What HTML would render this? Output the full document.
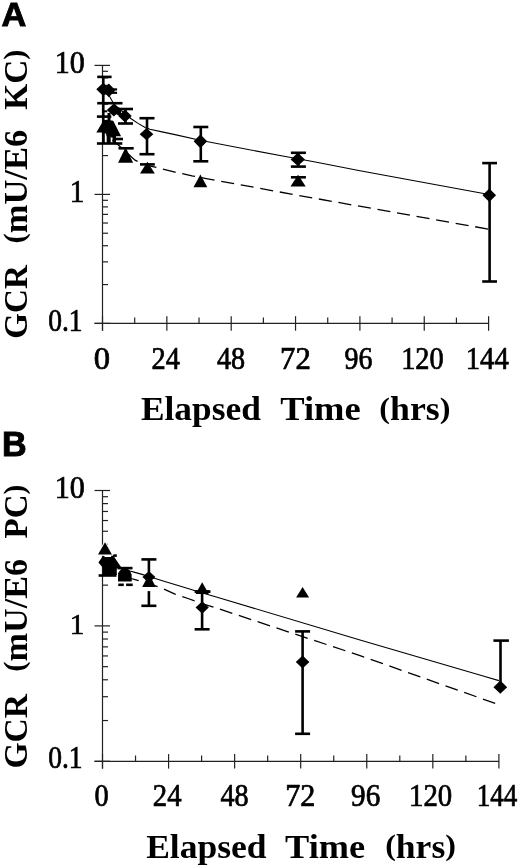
<!DOCTYPE html>
<html><head><meta charset="utf-8"><style>html,body{margin:0;padding:0;background:#fff}svg{display:block;filter:grayscale(1)}</style></head>
<body><svg width="520" height="868" viewBox="0 0 520 868">
<rect width="520" height="868" fill="#fff"/>
<text transform="translate(1.60,26.06) scale(0.9538,0.9429)" font-family="Liberation Sans" font-weight="bold" font-size="36" fill="#000" stroke="#000" stroke-width="1.0">A</text>
<text transform="translate(2.10,455.65) scale(0.9478,0.9500)" font-family="Liberation Sans" font-weight="bold" font-size="36" fill="#000" stroke="#000" stroke-width="1.0">B</text>
<line x1="102.5" y1="65.4" x2="102.5" y2="330.7" stroke="#222" stroke-width="1.2"/>
<line x1="94.5" y1="323.4" x2="488.6" y2="323.4" stroke="#222" stroke-width="1.2"/>
<line x1="94.5" y1="65.4" x2="110.0" y2="65.4" stroke="#222" stroke-width="1.2"/>
<line x1="94.5" y1="194.4" x2="110.0" y2="194.4" stroke="#222" stroke-width="1.2"/>
<line x1="94.5" y1="323.4" x2="110.0" y2="323.4" stroke="#222" stroke-width="1.2"/>
<line x1="102.5" y1="155.57" x2="108.0" y2="155.57" stroke="#222" stroke-width="1.2"/>
<line x1="102.5" y1="132.85" x2="108.0" y2="132.85" stroke="#222" stroke-width="1.2"/>
<line x1="102.5" y1="116.73" x2="108.0" y2="116.73" stroke="#222" stroke-width="1.2"/>
<line x1="102.5" y1="104.23" x2="108.0" y2="104.23" stroke="#222" stroke-width="1.2"/>
<line x1="102.5" y1="94.02" x2="108.0" y2="94.02" stroke="#222" stroke-width="1.2"/>
<line x1="102.5" y1="85.38" x2="108.0" y2="85.38" stroke="#222" stroke-width="1.2"/>
<line x1="102.5" y1="77.90" x2="108.0" y2="77.90" stroke="#222" stroke-width="1.2"/>
<line x1="102.5" y1="71.30" x2="108.0" y2="71.30" stroke="#222" stroke-width="1.2"/>
<line x1="102.5" y1="284.57" x2="108.0" y2="284.57" stroke="#222" stroke-width="1.2"/>
<line x1="102.5" y1="261.85" x2="108.0" y2="261.85" stroke="#222" stroke-width="1.2"/>
<line x1="102.5" y1="245.73" x2="108.0" y2="245.73" stroke="#222" stroke-width="1.2"/>
<line x1="102.5" y1="233.23" x2="108.0" y2="233.23" stroke="#222" stroke-width="1.2"/>
<line x1="102.5" y1="223.02" x2="108.0" y2="223.02" stroke="#222" stroke-width="1.2"/>
<line x1="102.5" y1="214.38" x2="108.0" y2="214.38" stroke="#222" stroke-width="1.2"/>
<line x1="102.5" y1="206.90" x2="108.0" y2="206.90" stroke="#222" stroke-width="1.2"/>
<line x1="102.5" y1="200.30" x2="108.0" y2="200.30" stroke="#222" stroke-width="1.2"/>
<line x1="102.50" y1="316.2" x2="102.50" y2="330.7" stroke="#222" stroke-width="1.2"/>
<line x1="134.68" y1="317.59999999999997" x2="134.68" y2="323.4" stroke="#222" stroke-width="1.2"/>
<line x1="166.85" y1="316.2" x2="166.85" y2="330.7" stroke="#222" stroke-width="1.2"/>
<line x1="199.03" y1="317.59999999999997" x2="199.03" y2="323.4" stroke="#222" stroke-width="1.2"/>
<line x1="231.20" y1="316.2" x2="231.20" y2="330.7" stroke="#222" stroke-width="1.2"/>
<line x1="263.38" y1="317.59999999999997" x2="263.38" y2="323.4" stroke="#222" stroke-width="1.2"/>
<line x1="295.55" y1="316.2" x2="295.55" y2="330.7" stroke="#222" stroke-width="1.2"/>
<line x1="327.73" y1="317.59999999999997" x2="327.73" y2="323.4" stroke="#222" stroke-width="1.2"/>
<line x1="359.90" y1="316.2" x2="359.90" y2="330.7" stroke="#222" stroke-width="1.2"/>
<line x1="392.08" y1="317.59999999999997" x2="392.08" y2="323.4" stroke="#222" stroke-width="1.2"/>
<line x1="424.25" y1="316.2" x2="424.25" y2="330.7" stroke="#222" stroke-width="1.2"/>
<line x1="456.43" y1="317.59999999999997" x2="456.43" y2="323.4" stroke="#222" stroke-width="1.2"/>
<line x1="488.60" y1="316.2" x2="488.60" y2="330.7" stroke="#222" stroke-width="1.2"/>
<text transform="translate(93.69,368.60) scale(1.1077,1.0474)" font-family="Liberation Serif" font-weight="normal" font-size="29.5" fill="#000" stroke="#000" stroke-width="0.7">0</text>
<text transform="translate(151.54,368.60) scale(0.9621,1.0474)" font-family="Liberation Serif" font-weight="normal" font-size="29.5" fill="#000" stroke="#000" stroke-width="0.7">24</text>
<text transform="translate(216.90,368.60) scale(0.9552,1.0474)" font-family="Liberation Serif" font-weight="normal" font-size="29.5" fill="#000" stroke="#000" stroke-width="0.7">48</text>
<text transform="translate(280.02,368.60) scale(1.0423,1.0474)" font-family="Liberation Serif" font-weight="normal" font-size="29.5" fill="#000" stroke="#000" stroke-width="0.7">72</text>
<text transform="translate(344.45,368.60) scale(0.9464,1.0474)" font-family="Liberation Serif" font-weight="normal" font-size="29.5" fill="#000" stroke="#000" stroke-width="0.7">96</text>
<text transform="translate(401.18,368.60) scale(0.9619,1.0474)" font-family="Liberation Serif" font-weight="normal" font-size="29.5" fill="#000" stroke="#000" stroke-width="0.7">120</text>
<text transform="translate(465.76,368.60) scale(0.9714,1.0474)" font-family="Liberation Serif" font-weight="normal" font-size="29.5" fill="#000" stroke="#000" stroke-width="0.7">144</text>
<text transform="translate(54.66,72.70) scale(1.0185,1.0474)" font-family="Liberation Serif" font-weight="normal" font-size="29.5" fill="#000" stroke="#000" stroke-width="0.7">10</text>
<text transform="translate(69.72,201.80) scale(0.9917,1.0474)" font-family="Liberation Serif" font-weight="normal" font-size="29.5" fill="#000" stroke="#000" stroke-width="0.7">1</text>
<text transform="translate(48.27,331.00) scale(0.9314,1.0526)" font-family="Liberation Serif" font-weight="normal" font-size="29.5" fill="#000" stroke="#000" stroke-width="0.7">0.1</text>
<text transform="translate(140.94,420.20) scale(1.0554,1.0000)" font-family="Liberation Serif" font-weight="bold" font-size="33.5" fill="#000">Elapsed</text>
<text transform="translate(280.21,420.20) scale(1.0903,1.0000)" font-family="Liberation Serif" font-weight="bold" font-size="33.5" fill="#000">Time</text>
<text transform="translate(379.33,420.20) scale(1.0672,1.0000)" font-family="Liberation Serif" font-weight="bold" font-size="33.5" fill="#000"><tspan font-size="30.15" dy="-2.6">(</tspan><tspan dy="2.6">​</tspan>hrs<tspan font-size="30.15" dy="-2.6">)</tspan><tspan dy="2.6">​</tspan></text>
<text transform="translate(27.30,338.78) rotate(-90) scale(0.9890,1.0000)" font-family="Liberation Serif" font-weight="bold" font-size="33.5" fill="#000">GCR</text>
<text transform="translate(27.30,243.53) rotate(-90) scale(1.0284,1.0000)" font-family="Liberation Serif" font-weight="bold" font-size="33.5" fill="#000"><tspan font-size="30.15" dy="-3.6">(</tspan><tspan dy="3.6">​</tspan>mU/E6</text>
<text transform="translate(27.30,109.79) rotate(-90) scale(0.9948,1.0000)" font-family="Liberation Serif" font-weight="bold" font-size="33.5" fill="#000">KC<tspan font-size="30.15" dy="-3.6">)</tspan><tspan dy="3.6">​</tspan></text>
<line x1="102.5" y1="490.5" x2="102.5" y2="768.5999999999999" stroke="#222" stroke-width="1.2"/>
<line x1="94.5" y1="761.3" x2="498.9" y2="761.3" stroke="#222" stroke-width="1.2"/>
<line x1="94.5" y1="490.5" x2="110.0" y2="490.5" stroke="#222" stroke-width="1.2"/>
<line x1="94.5" y1="625.9" x2="110.0" y2="625.9" stroke="#222" stroke-width="1.2"/>
<line x1="94.5" y1="761.3" x2="110.0" y2="761.3" stroke="#222" stroke-width="1.2"/>
<line x1="102.5" y1="585.14" x2="108.0" y2="585.14" stroke="#222" stroke-width="1.2"/>
<line x1="102.5" y1="561.30" x2="108.0" y2="561.30" stroke="#222" stroke-width="1.2"/>
<line x1="102.5" y1="544.38" x2="108.0" y2="544.38" stroke="#222" stroke-width="1.2"/>
<line x1="102.5" y1="531.26" x2="108.0" y2="531.26" stroke="#222" stroke-width="1.2"/>
<line x1="102.5" y1="520.54" x2="108.0" y2="520.54" stroke="#222" stroke-width="1.2"/>
<line x1="102.5" y1="511.47" x2="108.0" y2="511.47" stroke="#222" stroke-width="1.2"/>
<line x1="102.5" y1="503.62" x2="108.0" y2="503.62" stroke="#222" stroke-width="1.2"/>
<line x1="102.5" y1="496.70" x2="108.0" y2="496.70" stroke="#222" stroke-width="1.2"/>
<line x1="102.5" y1="720.54" x2="108.0" y2="720.54" stroke="#222" stroke-width="1.2"/>
<line x1="102.5" y1="696.70" x2="108.0" y2="696.70" stroke="#222" stroke-width="1.2"/>
<line x1="102.5" y1="679.78" x2="108.0" y2="679.78" stroke="#222" stroke-width="1.2"/>
<line x1="102.5" y1="666.66" x2="108.0" y2="666.66" stroke="#222" stroke-width="1.2"/>
<line x1="102.5" y1="655.94" x2="108.0" y2="655.94" stroke="#222" stroke-width="1.2"/>
<line x1="102.5" y1="646.87" x2="108.0" y2="646.87" stroke="#222" stroke-width="1.2"/>
<line x1="102.5" y1="639.02" x2="108.0" y2="639.02" stroke="#222" stroke-width="1.2"/>
<line x1="102.5" y1="632.10" x2="108.0" y2="632.10" stroke="#222" stroke-width="1.2"/>
<line x1="102.50" y1="754.0999999999999" x2="102.50" y2="768.5999999999999" stroke="#222" stroke-width="1.2"/>
<line x1="135.53" y1="755.5" x2="135.53" y2="761.3" stroke="#222" stroke-width="1.2"/>
<line x1="168.57" y1="754.0999999999999" x2="168.57" y2="768.5999999999999" stroke="#222" stroke-width="1.2"/>
<line x1="201.60" y1="755.5" x2="201.60" y2="761.3" stroke="#222" stroke-width="1.2"/>
<line x1="234.63" y1="754.0999999999999" x2="234.63" y2="768.5999999999999" stroke="#222" stroke-width="1.2"/>
<line x1="267.67" y1="755.5" x2="267.67" y2="761.3" stroke="#222" stroke-width="1.2"/>
<line x1="300.70" y1="754.0999999999999" x2="300.70" y2="768.5999999999999" stroke="#222" stroke-width="1.2"/>
<line x1="333.73" y1="755.5" x2="333.73" y2="761.3" stroke="#222" stroke-width="1.2"/>
<line x1="366.77" y1="754.0999999999999" x2="366.77" y2="768.5999999999999" stroke="#222" stroke-width="1.2"/>
<line x1="399.80" y1="755.5" x2="399.80" y2="761.3" stroke="#222" stroke-width="1.2"/>
<line x1="432.83" y1="754.0999999999999" x2="432.83" y2="768.5999999999999" stroke="#222" stroke-width="1.2"/>
<line x1="465.87" y1="755.5" x2="465.87" y2="761.3" stroke="#222" stroke-width="1.2"/>
<line x1="498.90" y1="754.0999999999999" x2="498.90" y2="768.5999999999999" stroke="#222" stroke-width="1.2"/>
<text transform="translate(94.54,806.20) scale(0.9615,1.0474)" font-family="Liberation Serif" font-weight="normal" font-size="29.5" fill="#000" stroke="#000" stroke-width="0.7">0</text>
<text transform="translate(152.78,806.20) scale(0.9741,1.0474)" font-family="Liberation Serif" font-weight="normal" font-size="29.5" fill="#000" stroke="#000" stroke-width="0.7">24</text>
<text transform="translate(220.40,806.20) scale(0.9552,1.0474)" font-family="Liberation Serif" font-weight="normal" font-size="29.5" fill="#000" stroke="#000" stroke-width="0.7">48</text>
<text transform="translate(285.25,806.20) scale(1.0231,1.0474)" font-family="Liberation Serif" font-weight="normal" font-size="29.5" fill="#000" stroke="#000" stroke-width="0.7">72</text>
<text transform="translate(351.11,806.20) scale(0.9893,1.0474)" font-family="Liberation Serif" font-weight="normal" font-size="29.5" fill="#000" stroke="#000" stroke-width="0.7">96</text>
<text transform="translate(409.05,806.20) scale(0.9762,1.0474)" font-family="Liberation Serif" font-weight="normal" font-size="29.5" fill="#000" stroke="#000" stroke-width="0.7">120</text>
<text transform="translate(476.67,806.20) scale(0.9167,1.0474)" font-family="Liberation Serif" font-weight="normal" font-size="29.5" fill="#000" stroke="#000" stroke-width="0.7">144</text>
<text transform="translate(54.66,497.70) scale(1.0185,1.0474)" font-family="Liberation Serif" font-weight="normal" font-size="29.5" fill="#000" stroke="#000" stroke-width="0.7">10</text>
<text transform="translate(69.72,633.80) scale(0.9917,1.0316)" font-family="Liberation Serif" font-weight="normal" font-size="29.5" fill="#000" stroke="#000" stroke-width="0.7">1</text>
<text transform="translate(48.27,768.30) scale(0.9314,1.0526)" font-family="Liberation Serif" font-weight="normal" font-size="29.5" fill="#000" stroke="#000" stroke-width="0.7">0.1</text>
<text transform="translate(146.14,857.70) scale(1.0607,1.0000)" font-family="Liberation Serif" font-weight="bold" font-size="33.5" fill="#000">Elapsed</text>
<text transform="translate(285.12,857.70) scale(1.0833,1.0000)" font-family="Liberation Serif" font-weight="bold" font-size="33.5" fill="#000">Time</text>
<text transform="translate(385.14,857.70) scale(1.0625,1.0000)" font-family="Liberation Serif" font-weight="bold" font-size="33.5" fill="#000"><tspan font-size="30.15" dy="-2.6">(</tspan><tspan dy="2.6">​</tspan>hrs<tspan font-size="30.15" dy="-2.6">)</tspan><tspan dy="2.6">​</tspan></text>
<text transform="translate(27.30,768.60) rotate(-90) scale(1.0014,1.0000)" font-family="Liberation Serif" font-weight="bold" font-size="33.5" fill="#000">GCR</text>
<text transform="translate(27.30,671.82) rotate(-90) scale(1.0220,1.0000)" font-family="Liberation Serif" font-weight="bold" font-size="33.5" fill="#000"><tspan font-size="30.15" dy="-3.6">(</tspan><tspan dy="3.6">​</tspan>mU/E6</text>
<text transform="translate(27.30,538.38) rotate(-90) scale(0.9830,1.0000)" font-family="Liberation Serif" font-weight="bold" font-size="33.5" fill="#000">PC<tspan font-size="30.15" dy="-3.6">)</tspan><tspan dy="3.6">​</tspan></text>
<g fill="#000"><polyline points="103.00,86.50 107.00,92.30 110.00,97.30 113.00,102.50 118.00,108.00 125.00,113.50 130.80,118.50 138.00,123.40 145.20,127.60 150.00,129.30 162.00,131.90 175.00,134.60 200.00,140.30 284.00,156.30 314.00,161.70 360.00,170.80 489.00,194.50" fill="none" stroke="#000" stroke-width="1.1"/>
<polyline points="103.00,128.00 110.00,138.50 117.50,144.20 125.00,151.00 135.00,160.20 147.00,165.30 161.30,168.60 175.00,172.10 192.00,175.90 205.00,178.30 294.00,194.60 489.00,229.20" fill="none" stroke="#000" stroke-width="1.3" stroke-dasharray="13.1,6.75" stroke-dashoffset="4.24"/>
<line x1="103.30" y1="76.90" x2="103.30" y2="103.50" stroke="#000" stroke-width="2.6"/>
<line x1="97.20" y1="76.90" x2="111.60" y2="76.90" stroke="#000" stroke-width="2.6"/>
<line x1="97.20" y1="103.20" x2="122.50" y2="103.20" stroke="#000" stroke-width="2.6"/>
<line x1="103.40" y1="103.50" x2="103.40" y2="143.50" stroke="#000" stroke-width="2.4"/>
<line x1="125.50" y1="109.00" x2="125.50" y2="123.50" stroke="#000" stroke-width="2.6"/><line x1="118.00" y1="109.00" x2="133.00" y2="109.00" stroke="#000" stroke-width="2.6"/><line x1="118.00" y1="123.50" x2="133.00" y2="123.50" stroke="#000" stroke-width="2.6"/>
<line x1="147.00" y1="118.20" x2="147.00" y2="154.20" stroke="#000" stroke-width="2.6"/><line x1="139.50" y1="118.20" x2="154.50" y2="118.20" stroke="#000" stroke-width="2.6"/><line x1="139.50" y1="154.20" x2="154.50" y2="154.20" stroke="#000" stroke-width="2.6"/>
<line x1="200.80" y1="127.00" x2="200.80" y2="161.30" stroke="#000" stroke-width="2.6"/><line x1="193.30" y1="127.00" x2="208.30" y2="127.00" stroke="#000" stroke-width="2.6"/><line x1="193.30" y1="161.30" x2="208.30" y2="161.30" stroke="#000" stroke-width="2.6"/>
<line x1="298.40" y1="152.80" x2="298.40" y2="166.60" stroke="#000" stroke-width="2.6"/><line x1="290.90" y1="152.80" x2="305.90" y2="152.80" stroke="#000" stroke-width="2.6"/><line x1="290.90" y1="166.60" x2="305.90" y2="166.60" stroke="#000" stroke-width="2.6"/>
<line x1="489.60" y1="163.10" x2="489.60" y2="281.50" stroke="#000" stroke-width="2.6"/><line x1="482.20" y1="163.10" x2="497.00" y2="163.10" stroke="#000" stroke-width="2.6"/><line x1="482.20" y1="281.50" x2="497.00" y2="281.50" stroke="#000" stroke-width="2.6"/>
<polygon points="96.30,89.30 103.20,82.70 110.10,89.30 103.20,95.90"/>
<polygon points="102.20,90.30 108.80,83.40 115.40,90.30 108.80,97.20"/>
<polygon points="106.80,110.00 113.80,103.60 120.80,110.00 113.80,116.40"/>
<polygon points="118.30,116.00 125.00,109.50 131.70,116.00 125.00,122.50"/>
<polygon points="139.65,134.20 146.50,128.10 153.35,134.20 146.50,140.30"/>
<polygon points="193.60,141.30 200.40,134.40 207.20,141.30 200.40,148.20"/>
<polygon points="290.60,159.40 297.80,152.80 305.00,159.40 297.80,166.00"/>
<polygon points="482.50,195.30 489.30,188.50 496.10,195.30 489.30,202.10"/>
<line x1="110.00" y1="89.40" x2="117.10" y2="89.40" stroke="#000" stroke-width="2.2"/>
<line x1="110.00" y1="92.80" x2="117.10" y2="92.80" stroke="#000" stroke-width="2.2"/>
<line x1="96.90" y1="116.60" x2="111.30" y2="116.60" stroke="#000" stroke-width="2.6"/>
<polygon points="116,106 121,108.5 121,117 116,114"/>
<line x1="102.00" y1="111.30" x2="107.30" y2="111.30" stroke="#000" stroke-width="2.0"/>
<line x1="96.90" y1="143.50" x2="122.30" y2="143.50" stroke="#000" stroke-width="2.6"/>
<line x1="115.30" y1="139.00" x2="123.00" y2="139.00" stroke="#000" stroke-width="2.6"/>
<line x1="118.50" y1="148.30" x2="133.70" y2="148.30" stroke="#000" stroke-width="2.6"/>
<line x1="140.00" y1="164.40" x2="154.80" y2="164.40" stroke="#000" stroke-width="2.6"/>
<line x1="290.90" y1="177.30" x2="305.90" y2="177.30" stroke="#000" stroke-width="2.6"/>
<polygon points="96.3,132.4 103.6,120.2 106,119.8 113.2,120.8 121.1,136.3 106.5,136.3 106.5,132.4"/>
<line x1="109.00" y1="113.00" x2="109.00" y2="121.00" stroke="#000" stroke-width="3.0"/>
<polygon points="125.60,147.30 133.10,162.80 118.10,162.80"/>
<polygon points="147.40,161.80 154.80,173.60 140.00,173.60"/>
<polygon points="200.40,174.60 207.30,187.20 193.50,187.20"/>
<polygon points="298.10,174.70 305.70,186.60 290.50,186.60"/>
<rect x="102" y="132" width="2.5" height="11.5" />
<rect x="106.7" y="132" width="4" height="11.5" />
<rect x="110.5" y="132" width="5.5" height="5.5" />
<rect x="112.5" y="132" width="3.5" height="11.5" /></g>
<g fill="#000"><polyline points="103.00,556.00 108.00,560.50 113.00,564.50 120.00,567.80 129.90,571.00 134.00,572.10 142.00,574.40 148.00,576.30 164.00,581.30 188.00,588.50 200.00,592.30 218.00,597.50 360.00,640.00 484.00,676.20 498.90,680.60" fill="none" stroke="#000" stroke-width="1.1"/>
<polyline points="118.00,573.00 131.00,578.50 136.80,580.20 150.00,584.00 163.50,588.80 175.00,594.20 188.00,598.50 200.00,603.00 213.60,607.10 360.00,655.60 497.00,704.00" fill="none" stroke="#000" stroke-width="1.3" stroke-dasharray="13.0,6.85" stroke-dashoffset="10.76"/>
<polygon points="102.2,557 110.8,557 113.2,555.6 121.2,567.3 116.8,568.5 116.8,575 102.7,575 102.7,567.5 98.4,562.5"/>
<line x1="98.60" y1="575.50" x2="116.50" y2="575.50" stroke="#000" stroke-width="2.6"/>
<line x1="111.00" y1="555.60" x2="116.80" y2="555.60" stroke="#000" stroke-width="2.6"/>
<line x1="125.00" y1="568.10" x2="125.00" y2="575.00" stroke="#000" stroke-width="2.6"/><line x1="117.50" y1="568.10" x2="132.50" y2="568.10" stroke="#000" stroke-width="2.6"/>
<line x1="118.30" y1="584.80" x2="123.80" y2="584.80" stroke="#000" stroke-width="2.6"/>
<line x1="126.10" y1="584.80" x2="132.70" y2="584.80" stroke="#000" stroke-width="2.6"/>
<line x1="148.90" y1="559.40" x2="148.90" y2="572.00" stroke="#000" stroke-width="2.6"/><line x1="141.40" y1="559.40" x2="156.40" y2="559.40" stroke="#000" stroke-width="2.6"/>
<line x1="148.90" y1="591.10" x2="148.90" y2="605.80" stroke="#000" stroke-width="2.6"/><line x1="141.40" y1="605.80" x2="156.40" y2="605.80" stroke="#000" stroke-width="2.6"/>
<line x1="202.10" y1="591.60" x2="202.10" y2="629.30" stroke="#000" stroke-width="2.6"/><line x1="194.60" y1="591.60" x2="209.60" y2="591.60" stroke="#000" stroke-width="2.6"/><line x1="194.60" y1="629.30" x2="209.60" y2="629.30" stroke="#000" stroke-width="2.6"/>
<line x1="302.60" y1="631.40" x2="302.60" y2="733.80" stroke="#000" stroke-width="2.6"/><line x1="295.10" y1="631.40" x2="310.10" y2="631.40" stroke="#000" stroke-width="2.6"/><line x1="295.10" y1="733.80" x2="310.10" y2="733.80" stroke="#000" stroke-width="2.6"/>
<line x1="500.50" y1="640.60" x2="500.50" y2="687.20" stroke="#000" stroke-width="2.6"/>
<line x1="493.40" y1="640.60" x2="508.90" y2="640.60" stroke="#000" stroke-width="2.6"/>
<polygon points="124.6,567.4 127.5,568.6 130.2,571.2 131.6,574.5 131.8,581.6 118.0,581.6 118.1,574.5 119.4,571.2 121.8,568.6"/>
<polygon points="142.40,577.00 148.90,570.90 155.40,577.00 148.90,583.10"/>
<polygon points="195.60,607.50 202.20,601.20 208.80,607.50 202.20,613.80"/>
<polygon points="295.80,661.90 302.60,655.40 309.40,661.90 302.60,668.40"/>
<polygon points="493.45,687.20 500.30,680.55 507.15,687.20 500.30,693.85"/>
<polygon points="105.0,542.2 112.4,554.6 98.5,554.6" fill="#000" stroke="#fff" stroke-width="2.2" stroke-linejoin="round"/>
<polygon points="105.00,542.20 111.95,554.60 98.05,554.60"/>
<polygon points="149.00,574.00 155.80,587.00 142.20,587.00"/>
<polygon points="202.20,582.30 208.80,594.00 195.60,594.00"/>
<line x1="195.50" y1="591.60" x2="210.50" y2="591.60" stroke="#000" stroke-width="2.6"/>
<polygon points="302.60,587.00 309.10,597.60 296.10,597.60"/></g>
</svg></body></html>
